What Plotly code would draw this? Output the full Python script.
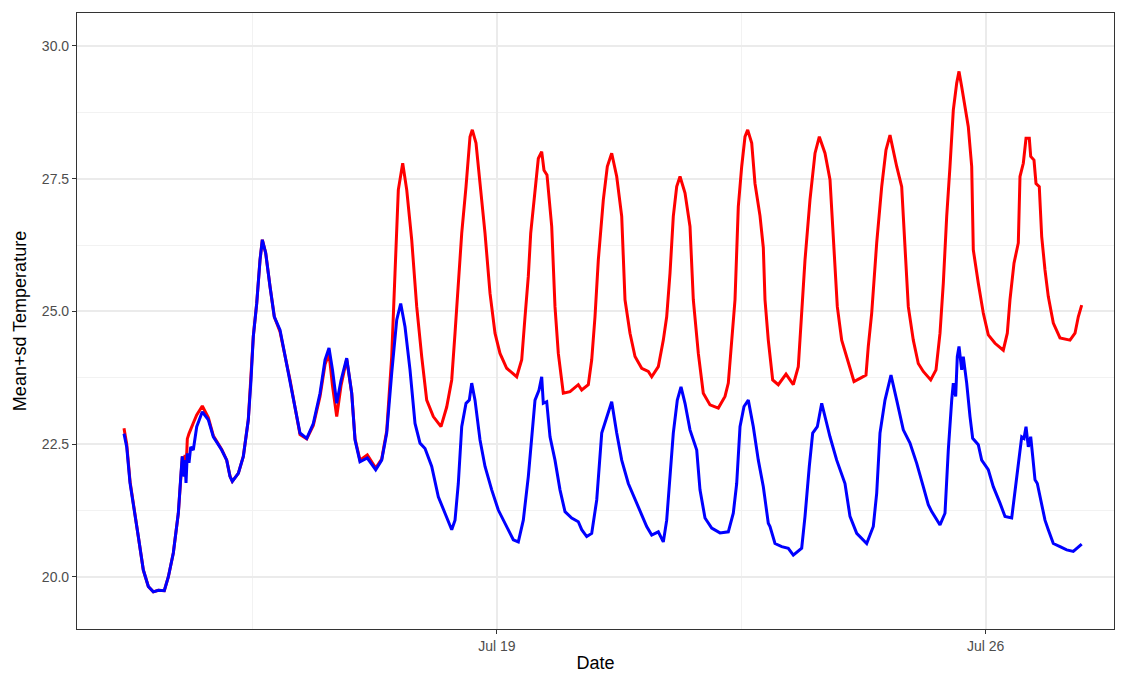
import pandas as pd
import plotly.graph_objects as go

# Hours since 2019-07-13 00:00 and Mean+sd temperature values
red_hours = [15.84, 16.77, 17.91, 19.04, 20.76, 22.48, 24.20, 25.91, 27.63, 29.69, 31.07, 32.79,
             34.51, 35.43, 35.88, 36.47, 36.81, 37.15, 37.60, 38.18, 38.77, 39.66, 40.83, 42.75,
             44.82, 46.54, 49.42, 51.14, 52.27, 53.07, 55.13, 56.85, 58.56, 59.49, 60.28, 61.45,
             62.59, 63.38, 64.54, 66.02, 67.50, 69.46, 72.90, 76.33, 78.64, 80.90, 83.21, 84.93,
             86.30, 87.50, 88.95, 90.42, 92.38, 94.10, 95.24, 96.95, 99.46, 102.35, 104.41, 106.13,
             107.85, 108.98, 110.12, 111.63, 113.01, 114.72, 116.44, 118.16, 119.88, 122.15, 124.79,
             126.75, 128.47, 129.61, 130.74, 131.91, 133.39, 134.76, 135.55, 136.82, 138.20, 139.92,
             141.64, 143.35, 145.07, 147.37, 150.81, 152.53, 153.67, 154.80, 155.62, 157.10, 158.24,
             159.40, 160.19, 161.22, 162.84, 163.97, 165.11, 166.82, 169.13, 171.98, 173.15, 175.42,
             176.59, 177.72, 178.86, 180.58, 181.95, 183.46, 185.18, 186.90, 188.03, 189.75, 191.47,
             193.77, 196.04, 197.21, 199.48, 201.20, 202.36, 203.50, 204.63, 205.80, 206.94, 208.66,
             210.37, 211.51, 213.23, 214.94, 217.25, 220.10, 222.40, 223.54, 224.70, 225.84, 226.97,
             228.14, 229.27, 230.20, 231.58, 232.71, 234.43, 235.57, 236.15, 237.28, 238.79, 240.72,
             243.37, 245.88, 247.59, 248.76, 249.90, 251.61, 253.34, 254.82, 256.77, 258.49, 259.63,
             261.00, 262.51, 264.78, 266.74, 268.80, 270.86, 271.65, 272.82, 274.54, 276.26, 277.73,
             279.11, 281.41, 283.13, 284.26, 285.40, 287.12, 288.83, 290.55, 293.10, 294.92, 296.30,
             297.43, 298.60, 299.73, 300.87, 302.04, 302.83, 303.75, 304.89, 306.02, 307.19, 307.74,
             309.46, 311.17, 312.89, 315.20, 318.05, 319.43, 320.35, 321.73, 323.21, 323.79, 324.93,
             325.86, 326.99, 327.47, 328.60, 329.29, 330.42, 331.25, 332.38, 333.52, 335.24, 337.54,
             340.98, 342.70, 343.83, 345.00]
red_vals = [22.80, 22.50, 21.80, 21.39, 20.76, 20.13, 19.82, 19.72, 19.75, 19.74, 20.00, 20.45,
            21.20, 21.95, 22.27, 21.95, 22.30, 22.00, 22.60, 22.70, 22.77, 22.90, 23.05, 23.22,
            23.00, 22.66, 22.40, 22.20, 21.90, 21.80, 21.95, 22.27, 22.96, 23.71, 24.53, 25.15,
            25.97, 26.35, 26.10, 25.47, 24.90, 24.62, 23.71, 22.68, 22.60, 22.85, 23.40, 24.00,
            24.21, 23.60, 23.02, 23.60, 24.10, 23.46, 22.60, 22.20, 22.30, 22.05, 22.22, 22.75,
            24.15, 25.72, 27.29, 27.79, 27.29, 26.35, 25.09, 24.15, 23.33, 23.02, 22.83,
            23.20, 23.71, 24.59, 25.53, 26.47, 27.35, 28.29, 28.42, 28.17, 27.41, 26.47,
            25.34, 24.59, 24.21, 23.93, 23.77, 24.09, 24.90, 25.66, 26.47, 27.29, 27.88,
            28.01, 27.66, 27.57, 26.60, 25.09, 24.21, 23.46, 23.49, 23.62, 23.52, 23.62,
            24.09, 24.90, 25.97, 27.10, 27.73, 27.98, 27.54, 26.79, 25.22, 24.59, 24.15,
            23.93, 23.87, 23.77, 23.96, 24.46, 24.90, 25.72, 26.79, 27.35, 27.54, 27.23,
            26.60, 25.22, 24.21, 23.46, 23.24, 23.18, 23.40, 23.65, 24.46, 25.22, 26.97,
            27.73, 28.29, 28.42, 28.17, 27.41, 26.80, 26.20, 25.22, 24.46, 23.71, 23.62,
            23.82, 23.62, 23.96, 24.90, 25.97, 27.10, 27.98, 28.29, 27.98, 27.48, 26.47,
            25.09, 24.46, 24.02, 23.68, 23.74, 23.80, 24.34, 24.97, 26.29, 27.35, 28.04,
            28.32, 27.73, 27.35, 26.22, 25.09, 24.46, 24.02, 23.87, 23.71, 23.90, 24.59,
            25.53, 26.79, 27.73, 28.79, 29.30, 29.52, 29.23, 28.86, 28.48, 27.73, 26.16,
            25.53, 24.97, 24.56, 24.40, 24.27, 24.59, 25.22, 25.91, 26.29, 27.54, 27.79,
            28.26, 28.26, 27.92, 27.85, 27.41, 27.35, 26.41, 25.78, 25.28, 24.78, 24.50,
            24.46, 24.59, 24.90, 25.12]

blue_hours = [15.84, 16.77, 17.91, 19.04, 20.76, 22.48, 24.20, 25.91, 27.63, 29.69, 31.07, 32.79,
              34.51, 35.43, 35.88, 36.47, 36.81, 37.15, 37.60, 38.18, 38.77, 39.66, 40.83, 42.75,
              44.82, 46.54, 49.42, 51.14, 52.27, 53.07, 55.13, 56.85, 58.56, 59.49, 60.28, 61.45,
              62.59, 63.38, 64.54, 66.02, 67.50, 69.46, 72.90, 76.33, 78.64, 80.90, 83.21, 84.93,
              86.30, 87.50, 88.95, 90.42, 92.38, 94.10, 95.24, 96.95, 99.46, 102.35, 104.41, 106.13,
              107.85, 109.57, 110.94, 112.42, 114.14, 115.86, 117.58, 119.30, 121.60, 123.87, 126.17,
              128.47, 129.61, 130.74, 131.91, 133.39, 134.52, 135.35, 136.48, 138.20, 139.92, 142.22,
              144.49, 147.37, 149.64, 151.36, 153.08, 154.80, 155.97, 157.10, 158.48, 159.40, 159.95,
              161.12, 162.26, 163.97, 165.69, 167.41, 169.71, 171.98, 173.15, 174.87, 176.59, 178.31,
              180.03, 181.95, 183.46, 185.18, 186.90, 189.17, 191.47, 193.77, 195.49, 197.21, 199.48,
              201.20, 202.36, 203.50, 204.63, 206.01, 207.28, 208.66, 210.37, 212.68, 213.81, 215.53,
              217.83, 220.68, 223.54, 225.25, 226.42, 227.56, 228.93, 230.41, 232.13, 233.85, 235.57,
              237.28, 237.87, 239.58, 241.89, 244.16, 245.88, 248.76, 249.90, 251.37, 252.54, 254.13,
              255.64, 257.36, 258.49, 260.79, 263.64, 265.36, 267.67, 271.10, 273.37, 274.54, 275.67,
              277.39, 279.45, 281.41, 283.68, 285.98, 288.29, 290.55, 292.27, 293.45, 296.30, 298.01,
              299.15, 300.32, 300.87, 301.69, 302.24, 302.83, 303.75, 304.30, 305.47, 306.61, 307.53,
              309.46, 310.62, 312.89, 314.61, 316.92, 318.64, 320.94, 322.07, 323.21, 324.38, 325.17,
              325.86, 326.65, 327.47, 328.16, 328.95, 329.74, 330.90, 332.38, 333.52, 335.24, 337.54,
              339.84, 342.11, 343.49, 345.00]
blue_vals = [22.70, 22.45, 21.77, 21.39, 20.76, 20.13, 19.82, 19.72, 19.75, 19.74, 20.00, 20.45,
             21.20, 21.95, 22.27, 21.89, 22.20, 21.77, 22.33, 22.15, 22.45, 22.39, 22.83, 23.11,
             22.96, 22.64, 22.39, 22.20, 21.89, 21.80, 21.95, 22.27, 22.96, 23.71, 24.53, 25.15,
             25.97, 26.35, 26.10, 25.47, 24.90, 24.65, 23.71, 22.71, 22.61, 22.89, 23.46, 24.09,
             24.31, 23.90, 23.27, 23.70, 24.12, 23.46, 22.58, 22.17, 22.24, 22.02, 22.20, 22.71,
             23.84, 24.84, 25.15, 24.71, 23.90, 22.89, 22.52, 22.42, 22.08, 21.51, 21.20,
             20.89, 21.07, 21.76, 22.83, 23.27, 23.33, 23.65, 23.33, 22.58, 22.08, 21.64,
             21.26, 20.95, 20.70, 20.66, 21.07, 21.89, 22.71, 23.33, 23.52, 23.77, 23.27,
             23.30, 22.64, 22.20, 21.64, 21.23, 21.11, 21.04, 20.89, 20.76, 20.82, 21.45,
             22.71, 23.05, 23.30, 22.71, 22.20, 21.76, 21.48, 21.17, 20.95, 20.79, 20.85,
             20.66, 21.07, 21.89, 22.71, 23.33, 23.58, 23.27, 22.77, 22.39, 21.64, 21.11,
             20.92, 20.83, 20.85, 21.20, 21.76, 22.83, 23.21, 23.33, 22.83, 22.20, 21.70,
             21.01, 20.95, 20.63, 20.57, 20.54, 20.41, 20.54, 21.14, 22.08, 22.71, 22.83,
             23.27, 22.89, 22.64, 22.20, 21.76, 21.14, 20.82, 20.63, 20.95, 21.58, 22.71,
             23.33, 23.80, 23.33, 22.77, 22.52, 22.14, 21.70, 21.36, 21.23, 20.98, 21.20,
             22.39, 23.33, 23.65, 23.40, 24.15, 24.34, 23.90, 24.15, 23.65, 23.02, 22.61,
             22.49, 22.20, 22.02, 21.70, 21.39, 21.14, 21.11, 21.64, 22.14, 22.64, 22.61,
             22.83, 22.45, 22.64, 22.27, 21.83, 21.76, 21.45, 21.07, 20.89, 20.63, 20.57,
             20.51, 20.48, 20.54, 20.62]

x_tick_dates = ["2019-07-19", "2019-07-26"]
x_tick_labels = ["Jul 19", "Jul 26"]
x_minor_dates = ["2019-07-15 12:00", "2019-07-22 12:00"]
y_ticks = [20.0, 22.5, 25.0, 27.5, 30.0]
y_minor = [21.25, 23.75, 26.25, 28.75]

base = pd.Timestamp("2019-07-13 00:00")
red_t = base + pd.to_timedelta(red_hours, unit="h")
blue_t = base + pd.to_timedelta(blue_hours, unit="h")

fig = go.Figure()
fig.add_trace(go.Scatter(x=red_t, y=red_vals, mode="lines",
                         line=dict(color="#FF0000", width=3), showlegend=False))
fig.add_trace(go.Scatter(x=blue_t, y=blue_vals, mode="lines",
                         line=dict(color="#0000FF", width=3), showlegend=False))

font_family = "Liberation Sans, Arial, sans-serif"
fig.update_layout(
    width=1130, height=673,
    margin=dict(l=77, r=16, t=13, b=44),
    paper_bgcolor="white", plot_bgcolor="white",
    font=dict(family=font_family),
)
fig.update_xaxes(
    automargin=False,
    range=[base - pd.Timedelta(minutes=19), base + pd.Timedelta(hours=356.1)],
    tickmode="array", tickvals=x_tick_dates, ticktext=x_tick_labels,
    tickfont=dict(size=14, color="#4D4D4D"),
    ticks="outside", ticklen=4, tickwidth=1.2, tickcolor="#333333",
    showgrid=True, gridcolor="#EBEBEB", gridwidth=2,
    minor=dict(tickmode="array", tickvals=x_minor_dates, showgrid=True,
               gridcolor="#F2F2F2", gridwidth=1, ticks=""),
    showline=True, linecolor="#333333", linewidth=1.2, mirror=True,
    zeroline=False,
    title=dict(text="Date", font=dict(size=18, color="#000000"), standoff=8),
)
fig.update_yaxes(
    automargin=False,
    range=[19.02, 30.62],
    tickmode="array", tickvals=y_ticks, tickformat=".1f",
    tickfont=dict(size=14, color="#4D4D4D"),
    ticks="outside", ticklen=4, tickwidth=1.2, tickcolor="#333333",
    showgrid=True, gridcolor="#EBEBEB", gridwidth=2,
    minor=dict(tickmode="array", tickvals=y_minor, showgrid=True,
               gridcolor="#F2F2F2", gridwidth=1, ticks=""),
    showline=True, linecolor="#333333", linewidth=1.2, mirror=True,
    zeroline=False,
    title=dict(text="Mean+sd Temperature", font=dict(size=18, color="#000000"), standoff=10),
)

fig.write_html("out.html")
